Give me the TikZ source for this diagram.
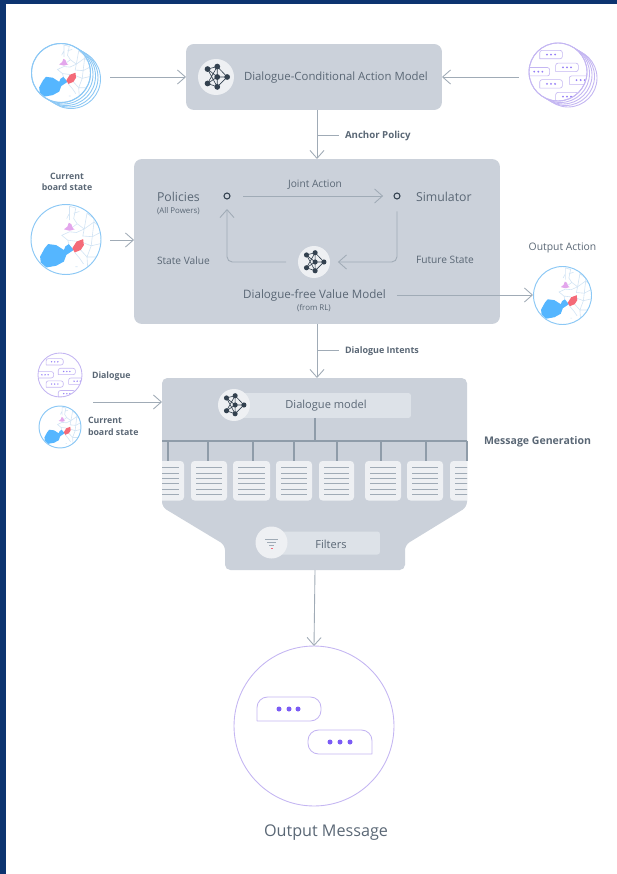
\documentclass[tikz,border=0pt]{standalone}
\usepackage{fontspec}
\setmainfont{Open Sans}
\usetikzlibrary{arrows.meta}

\definecolor{navy}{HTML}{0D3470}
\definecolor{panel}{HTML}{CBD1DA}
\definecolor{bar}{HTML}{DDE2E8}
\definecolor{paper}{HTML}{EEF0F3}
\definecolor{ink}{HTML}{33414F}
\definecolor{label}{HTML}{5A6775}
\definecolor{wire}{HTML}{A0ABB6}
\definecolor{wiredark}{HTML}{8F9CA9}
\definecolor{mapblue}{HTML}{55B6FF}
\definecolor{mapedge}{HTML}{8CC8F5}
\definecolor{mapred}{HTML}{F46A78}
\definecolor{maplilac}{HTML}{E3A6EC}
\definecolor{mapline}{HTML}{D3E4F4}
\definecolor{chatline}{HTML}{C4B6F2}
\definecolor{chatdot}{HTML}{7B5CF5}

\tikzset{
  panelbox/.style={fill=panel, rounded corners=4.5pt, inner sep=0pt, outer sep=0pt},
  txt/.style={text=label, inner sep=0pt, outer sep=0pt, yshift=-0.5pt, font=\fontsize{6.3}{8}\selectfont},
  txtbig/.style={txt, font=\fontsize{7}{9}\selectfont},
  txtmid/.style={txt, font=\fontsize{5.8}{7}\selectfont},
  txtbold/.style={txt, font=\fontsize{5.5}{6.4}\selectfont\bfseries, align=left},
  txtboldsm/.style={txt, font=\fontsize{5}{6.4}\selectfont\bfseries, align=left},
  txtsmall/.style={txt, font=\fontsize{4.5}{5}\selectfont},
  flow/.style={wire, line width=0.5pt, -{Straight Barb[length=4.5pt,width=8pt,line width=0.5pt]}},
  wireline/.style={wire, line width=0.5pt},
  busline/.style={wiredark, line width=0.6pt},
  dot/.style={circle, draw=ink, line width=0.6pt, minimum size=0.12cm, inner sep=0pt, outer sep=0pt},
  icondisc/.style={circle, fill=paper, inner sep=0pt, outer sep=0pt},
  pics/netw/.style={code={
    \coordinate (a1) at (-.47,-.44); \coordinate (a2) at (.07,-.58);
    \coordinate (a3) at (.62,0); \coordinate (a4) at (.07,0);
    \coordinate (a5) at (-.47,.36); \coordinate (a6) at (.07,.55);
    \draw[ink, line width=0.35pt] (a1) -- (a2) -- (a3) -- (a6) -- (a5) -- (a4) -- (a1) -- (a6)
      (a5) -- (a2) -- (a4) -- (a3) (a4) -- (a6);
    \foreach \n in {a1,a2,a3,a4,a5,a6} \fill[ink] (\n) circle (.16);
  }},
  pics/mapglobe/.style={code={
    \begin{scope}
      \clip (0,0) circle (1);
      \draw[mapline, line width=0.35pt]
        (.1,-.55) -- (.1,-.95) -- (.28,-.9) -- (.22,-.6) -- (.32,-.45) -- (.2,-.36)
        (.02,-.6) -- (.1,-.75) (.22,-.75) -- (.38,-.8)
        (.32,-.45) -- (.52,-.3) -- (.8,-.5) (.52,-.3) -- (.6,-.75) -- (.8,-.6) -- (.8,-.5) -- (.98,-.35)
        (.3,-.2) -- (.52,-.3) -- (.48,-.1) -- (.75,-.08) -- (.98,-.2)
        (.75,-.08) -- (.8,-.5) (.51,.1) -- (.72,.18) -- (.98,.12) (.72,.18) -- (.75,-.08)
        (.42,.3) -- (.6,.5) -- (.85,.5) (.72,.18) -- (.6,.5) -- (.62,.8) (.85,.5) -- (.98,.4)
        (.3,.05) -- (.05,.02) -- (-.12,-.12) -- (.1,-.22) -- (.3,-.2)
        (.05,.02) -- (.08,.13) (.25,.37) -- (.4,.55) -- (.5,.7)
        (.27,.78) -- (.33,.78);
      \fill[mapblue] (-.74,.49) -- (-.61,.25) -- (-.51,.13) -- (-.28,.16) -- (-.06,.3) -- (-.02,.2)
        -- (.08,.13) -- (.22,.3) -- (.01,.44) -- (-.06,.63) -- (-.28,.75) -- (-.56,.8) -- (-.72,.66) -- cycle;
      \fill[mapred] (.18,.25) -- (.3,.06) -- (.49,-.01) -- (.51,.16) -- (.42,.3) -- (.25,.37) -- cycle;
      \fill[maplilac] (-.06,-.29) -- (.04,-.37) -- (.08,-.48) -- (.15,-.44) -- (.2,-.32) -- (.25,-.29) -- (.1,-.25) -- cycle;
    \end{scope}
    \draw[mapedge, line width=0.55pt] (0,0) circle (1);
  }},
  pics/chatglobe/.style={code={
    \begin{scope}
      \clip (0,0) circle (1);
      \foreach \x/\y in {-.24/-.6, .31/-.16, -.68/-.01, -.24/.41, .78/.28, .31/.85} {
        \draw[chatline, line width=0.35pt, rounded corners=1.3pt] (\x-.39,\y+.145) -- (\x-.39,\y-.145) -- (\x+.39,\y-.145) -- (\x+.39,\y+.145) -- (\x-.39,\y+.145);
        \foreach \d in {-.14,0,.14} \fill[chatdot!80!white] (\x+\d,\y) circle (.035);
      }
    \end{scope}
    \draw[chatline, line width=0.5pt] (0,0) circle (1);
  }}
}

\begin{document}
\begin{tikzpicture}[x=0.02cm, y=-0.02cm]
\useasboundingbox (0,0) rectangle (617,874);
% page edge
\fill[navy] (0,0) rectangle (617,4);
\fill[navy] (0,0) rectangle (6,874);

% panels
\node[panelbox, minimum width=5.12cm, minimum height=1.32cm] (dcam) at (314,77) {};
\node[panelbox, minimum width=7.32cm, minimum height=3.3cm] (search) at (317,241.5) {};
\fill[panel, rounded corners=3pt] (162,378) -- (467,378) -- (467,507) -- (405,545) -- (405,570)
  -- (225,570) -- (225,545) -- (162,507) -- cycle;
\coordinate (msgtop) at (317,378);
\coordinate (msgleft) at (162,402);
\coordinate (msgbottom) at (315,570);

% top row
\foreach \i in {4,3,2,1,0} \path[fill=white, draw=mapedge, line width=0.5pt] (61+2.5*\i,73+1.5*\i) circle (29.5);
\pic[scale=29.5] at (61,73) {mapglobe};
\foreach \i in {4,3,2,1,0} \path[fill=white, draw=chatline, line width=0.5pt] (558+2.5*\i,72+1.5*\i) circle (29);
\pic[scale=29] at (558,72) {chatglobe};
\coordinate (mapout) at (110,77);
\coordinate (chatout) at (519,77);
\draw[flow] (mapout) -- (dcam.west);
\draw[flow] (chatout) -- (dcam.east);
\node[icondisc, minimum size=0.72cm] (dcamicon) at (216,77) {};
\pic[scale=18] at (216,77) {netw};
\node[txtbig, font=\fontsize{6.47}{9}\selectfont, anchor=west] (dcamlabel) at (244,77) {Dialogue-Conditional Action Model};

% anchor policy
\coordinate (anchortop) at (317,110);
\coordinate (anchorend) at (317,159);
\coordinate (anchortick) at (317,135);
\node[txtbold, anchor=west] (anchorlabel) at (345,135) {Anchor Policy};
\draw[flow] (anchortop) -- (anchorend);
\draw[wireline] (anchortick) -- ++(22,0);

% search panel
\node[txtboldsm, align=center] (curlabel) at (67,181) {Current\\board state};
\pic[scale=35] at (66,239.5) {mapglobe};
\coordinate (curout) at (110,240);
\draw[flow] (curout) -- (curout -| search.west);
\node[txtbig, anchor=west] (policies) at (157,196) {Policies};
\node[txtsmall, anchor=west] (powers) at (157,210) {(All Powers)};
\node[dot] (policydot) at (227,196) {};
\node[dot] (simdot) at (397,196) {};
\node[txtbig, anchor=west] (simulator) at (416,196) {Simulator};
\node[txtmid] (jointlabel) at (315,184) {Joint Action};
\node[txtmid, anchor=west] (statelabel) at (157,260) {State Value};
\node[txtmid, anchor=west] (futurelabel) at (416,259) {Future State};
\node[icondisc, minimum size=0.64cm] (valueicon) at (314,262) {};
\pic[scale=16] at (314,262) {netw};
\node[txtbig, font=\fontsize{6.6}{9}\selectfont] (valuelabel) at (314.5,295) {Dialogue-free Value Model};
\node[txtsmall] (rllabel) at (314,307) {(from RL)};
\draw[flow, shorten <=7.4pt, shorten >=6.2pt] (policydot) -- (simdot);
\draw[flow, rounded corners=3pt, shorten <=7pt, shorten >=4.5pt] (simdot) |- (valueicon.east);
\draw[flow, rounded corners=3pt, shorten <=6.8pt, shorten >=5.7pt] (valueicon.west) -| (policydot);

% output action
\node[txtmid, font=\fontsize{5.9}{7}\selectfont] (actionlabel) at (562.5,247) {Output Action};
\pic[scale=29] at (562.5,295.5) {mapglobe};
\coordinate (actionin) at (533,295);
\draw[flow, shorten <=6.3pt] (valuelabel.east |- actionin) -- (actionin);

% dialogue intents
\coordinate (intentstop) at (317,324);
\coordinate (intentstick) at (317,350);
\node[txtbold, font=\fontsize{5.1}{6.4}\selectfont\bfseries, anchor=west] (intentslabel) at (345,350) {Dialogue Intents};
\draw[flow] (intentstop) -- (msgtop);
\draw[wireline] (intentstick) -- ++(22,0);

% inputs of message generation
\pic[scale=22] at (60,375) {chatglobe};
\pic[scale=21] at (60,427) {mapglobe};
\node[txtboldsm, anchor=west] (dlglabel) at (92,375) {Dialogue};
\node[txtboldsm, anchor=west] (boardlabel) at (88,425.5) {Current\\board state};
\coordinate (inputout) at (93,402);
\draw[flow] (inputout) -- (msgleft);
\node[txtbold, font=\fontsize{6}{7}\selectfont\bfseries, anchor=west] (msglabel) at (484,441) {Message Generation};

% dialogue model and candidates
\node[fill=bar, rounded corners=1.5pt, minimum width=3.52cm, minimum height=0.5cm, inner sep=0pt, outer sep=0pt] (dlgbar) at (323,405.5) {};
\node[icondisc, minimum size=0.64cm] (dlgicon) at (234,405) {};
\pic[scale=16] at (234,405) {netw};
\node[txt] (dlgmodel) at (326,405) {Dialogue model};
\coordinate (bus) at (315,441);
\draw[busline] (bus |- dlgbar.south) -- (bus);
\draw[busline] (162,441) -- (467,441);
\foreach \x in {168,208,253,294,337,381,426,467} \draw[busline] (\x,441) -- (\x,461);
\begin{scope}
  \clip (162,455) rectangle (467,505);
  \foreach \a/\b in {148/184,191/227,233/270,276/312,319/354,365/401,407/443,450/486} {
    \fill[paper, rounded corners=2pt] (\a,500.5) -- (\a,461) -- (\b,461) -- (\b,500.5) -- cycle;
    \foreach \y in {467.7,473,478,483.7,489,494.5} \draw[wire, line width=0.5pt] (\a+5,\y) -- (\b-5,\y);
  }
\end{scope}

% filters
\node[fill=bar, rounded corners=1.5pt, minimum width=2.2cm, minimum height=0.46cm, inner sep=0pt, outer sep=0pt] (filterbar) at (325,543) {};
\node[icondisc, minimum size=0.64cm] (filtericon) at (271.5,542.5) {};
\draw[wire, line width=0.5pt] (265,539) -- (278,539) (267,542.5) -- (276,542.5) (269,545.5) -- (274,545.5);
\draw[mapred, line width=0.5pt] (270.5,548.5) -- (272.5,548.5);
\node[txt] (filterlabel) at (331,543) {Filters};

% output message
\node[circle, draw=chatline, line width=0.5pt, minimum size=3.2cm, inner sep=0pt, outer sep=0pt] (outmsg) at (314,726) {};
\draw[flow] (msgbottom) -- (outmsg.north);
\draw[chatline, line width=0.5pt, rounded corners=6pt] (257,721) -- (257,697) -- (321,697) -- (321,721) -- (257,721);
\draw[chatline, line width=0.5pt, rounded corners=6pt] (372,754) -- (308,754) -- (308,730) -- (372,730) -- (372,754);
\foreach \x in {279,289,298} \fill[chatdot] (\x,709) circle (2.5);
\foreach \x in {330,340,350} \fill[chatdot] (\x,742) circle (2.5);
\node[txt, font=\fontsize{9.2}{11}\selectfont] (outlabel) at (326,831.5) {Output Message};
\end{tikzpicture}
\end{document}
